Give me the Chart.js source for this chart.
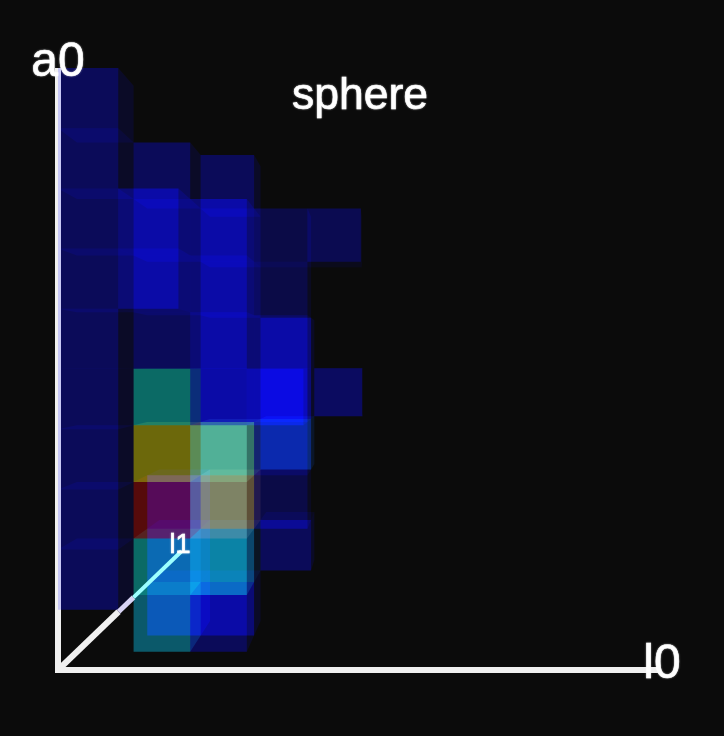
<!DOCTYPE html>
<html>
<head>
<meta charset="utf-8">
<title>sphere</title>
<script src="https://cdn.jsdelivr.net/npm/chart.js@4"></script>
<style>
    html, body { margin: 0; padding: 0; background: #0b0b0b; }
    #wrap { width: 724px; height: 736px; }
    canvas { display: block; }
</style>
</head>
<body>
<div id="wrap"><canvas id="voxelChart" width="724" height="736"></canvas></div>
<script>
// ============================================
// DATA: occupied histogram bins, one list per l1 bin: [l0, a0, level]
// ============================================
const l1Bin0 = [
    [0, 1, 1], [0, 2, 1], [0, 3, 1], [0, 4, 1], [0, 5, 1], [0, 6, 1], [0, 7, 1], [0, 8, 1], [0, 9, 1],
    [1, 6, 1], [1, 7, 1]
];
const l1Bin1 = [
    [1, 0, 5], [1, 1, 2], [1, 2, 4], [1, 3, 3], [1, 4, 2], [1, 5, 1], [1, 6, 1], [1, 7, 1], [1, 8, 1],
    [2, 0, 1], [2, 1, 2], [2, 2, 7], [2, 3, 6], [2, 4, 1], [2, 5, 1], [2, 6, 1], [2, 7, 1],
    [3, 4, 11]
];
const l1Bin2 = [
    [1, 0, 1], [1, 1, 1], [1, 2, 1],
    [2, 0, 1], [2, 1, 9], [2, 2, 8], [2, 3, 14], [2, 4, 1], [2, 5, 1], [2, 6, 1], [2, 7, 1], [2, 8, 1],
    [3, 2, 11], [3, 3, 1], [3, 4, 1], [3, 5, 1], [3, 6, 11], [3, 7, 11],
    [4, 7, 12]
];
const l1Bin3 = [
    [3, 1, 1], [3, 3, 10], [3, 4, 1], [3, 5, 1]
];
const l1Bin4 = [
    [4, 4, 13]
];
const l1Bins = [l1Bin0, l1Bin1, l1Bin2, l1Bin3, l1Bin4];

// added colour of each level
const levelColors = [
    null,
    [0, 0, 78], [0, 95, 90], [97, 93, 0], [75, 0, 0], [0, 78, 95], [45, 95, 75],
    [50, 80, 70], [65, 40, 20], [0, 25, 65], [0, 30, 85], [0, 0, 60], [0, 0, 70], [0, 0, 85],
    [25, 70, 65]
];

const axisNames = ['l0', 'a0', 'l1'];
const chartTitle = 'sphere';

// ============================================
// PERSPECTIVE VIEW (in axis units, one unit = one bin at the front)
// ============================================
const BIN_PX = 60.2;
const ORIGIN_X = 58;
const ORIGIN_Y = 670;
const VANISH_L0 = (375 - ORIGIN_X) / BIN_PX;
const VANISH_A0 = (ORIGIN_Y - 365) / BIN_PX;
const DEPTH = 15.67;
const SIDE_SHADE = 0.36;
const FLAT_SHADE = 0.24;

function project(l0, a0, l1) {
    const s = DEPTH / (DEPTH + l1);
    return { x: VANISH_L0 + (l0 - VANISH_L0) * s, y: VANISH_A0 + (a0 - VANISH_A0) * s };
}

function faceDataset(corners, rgb, factor) {
    const c = rgb.map(v => Math.round(v * factor));
    return {
        type: 'scatter',
        data: corners.map(p => project(p[0], p[1], p[2])),
        showLine: true,
        fill: 'shape',
        tension: 0,
        borderWidth: 0,
        pointRadius: 0,
        backgroundColor: `rgb(${c[0]},${c[1]},${c[2]})`
    };
}

// front face, right side and the one flat face that can be seen from the vanishing point
function voxelFaces(l0, a0, l1, level) {
    const rgb = levelColors[level];
    const faces = [];
    faces.push(faceDataset([[l0 + 1, a0, l1], [l0 + 1, a0 + 1, l1], [l0 + 1, a0 + 1, l1 + 1], [l0 + 1, a0, l1 + 1]], rgb, SIDE_SHADE));
    if (a0 + 1 <= VANISH_A0) {
        faces.push(faceDataset([[l0, a0 + 1, l1], [l0 + 1, a0 + 1, l1], [l0 + 1, a0 + 1, l1 + 1], [l0, a0 + 1, l1 + 1]], rgb, FLAT_SHADE));
    } else if (a0 >= VANISH_A0) {
        faces.push(faceDataset([[l0, a0, l1], [l0 + 1, a0, l1], [l0 + 1, a0, l1 + 1], [l0, a0, l1 + 1]], rgb, FLAT_SHADE));
    }
    faces.push(faceDataset([[l0, a0, l1], [l0 + 1, a0, l1], [l0 + 1, a0 + 1, l1], [l0, a0 + 1, l1]], rgb, 1));
    return faces;
}

function axisDataset(points, color, width) {
    return {
        type: 'scatter',
        data: points,
        showLine: true,
        fill: false,
        tension: 0,
        borderColor: color,
        borderWidth: width,
        pointRadius: 0,
        solidBlend: true
    };
}

// ============================================
// CHART
// ============================================
const blendPlugin = {
    id: 'blendPlugin',
    beforeDraw(chart) {
        const ctx = chart.ctx;
        ctx.save();
        ctx.fillStyle = '#0b0b0b';
        ctx.fillRect(0, 0, chart.width, chart.height);
        ctx.restore();
    },
    beforeDatasetsDraw(chart) {
        chart.ctx.save();
        chart.ctx.globalCompositeOperation = 'lighter';
    },
    beforeDatasetDraw(chart, args) {
        if (chart.data.datasets[args.index].solidBlend) {
            chart.ctx.globalCompositeOperation = 'source-over';
        }
    },
    afterDatasetsDraw(chart) {
        chart.ctx.restore();
    },
    afterDraw(chart) {
        const ctx = chart.ctx;
        ctx.save();
        ctx.fillStyle = '#ffffff';
        ctx.strokeStyle = '#ffffff';
        ctx.lineWidth = 0.6;
        ctx.textBaseline = 'alphabetic';
        ctx.textAlign = 'center';
        ctx.shadowColor = 'rgba(255,255,255,0.5)';
        ctx.shadowBlur = 2;
        const labels = [
            [axisNames[1], 58, 76, '48px'],
            [axisNames[0], 662, 678, '48px'],
            [chartTitle, 360, 109, '44.5px'],
            [axisNames[2], 180, 553, '27px']
        ];
        labels.forEach(l => {
            ctx.font = l[3] + ' "Liberation Sans"';
            ctx.fillText(l[0], l[1], l[2]);
            ctx.strokeText(l[0], l[1], l[2]);
        });
        ctx.restore();
    }
};

function drawChart() {
    const datasets = [
        // axes come first: dataset 0 is painted last
        axisDataset([project(0, 0, 4.9), project(0, 0, 10)], '#9cffff', 4),
        axisDataset([project(0, 0, 3.7), project(0, 0, 4.9)], '#d8d4f4', 5),
        axisDataset([project(0, 0, 0), project(0, 0, 3.7)], '#f0f0f0', 6),
        axisDataset([{ x: 0.025, y: 1 }, { x: 0.025, y: 10 }], '#c8c8f6', 3),
        axisDataset([{ x: 0, y: -0.05 }, { x: 0, y: 10 }], '#f0f0f0', 6),
        axisDataset([{ x: 0, y: 0 }, { x: 10, y: 0 }], '#f0f0f0', 6)
    ];
    l1Bins.forEach((bin, l1) => {
        bin.forEach(v => datasets.push(...voxelFaces(v[0], v[1], l1, v[2])));
    });

    new Chart(document.getElementById('voxelChart'), {
        type: 'scatter',
        data: { datasets },
        plugins: [blendPlugin],
        options: {
            responsive: false,
            animation: false,
            layout: { padding: 0 },
            plugins: { legend: { display: false }, tooltip: { enabled: false } },
            scales: {
                x: { display: false, min: -ORIGIN_X / BIN_PX, max: (724 - ORIGIN_X) / BIN_PX },
                y: { display: false, min: (ORIGIN_Y - 736) / BIN_PX, max: ORIGIN_Y / BIN_PX }
            }
        }
    });
}

drawChart();
</script>
</body>
</html>
